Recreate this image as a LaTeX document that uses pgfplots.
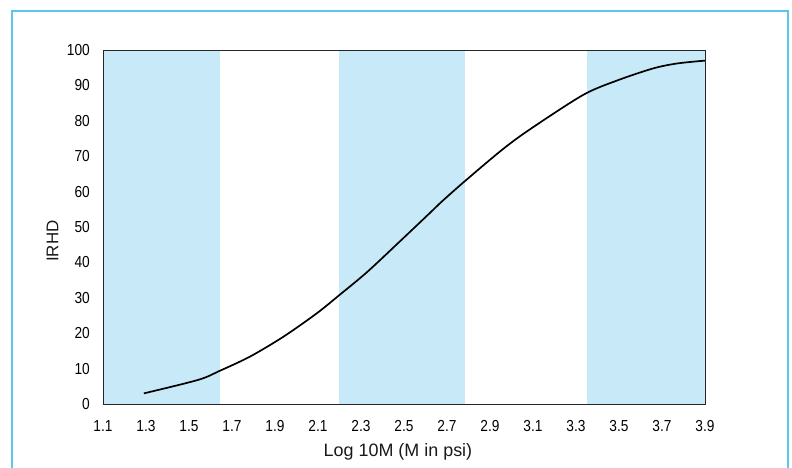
\documentclass[border=0pt]{standalone}
\usepackage{fontspec}
\setmainfont{Liberation Sans}
\newfontfamily\tickfont[FakeStretch=0.86]{Liberation Sans}
\usepackage{pgfplots}
\pgfplotsset{compat=1.18}
\definecolor{band}{RGB}{200,234,248}
\definecolor{frame}{RGB}{90,198,236}

\begin{document}
\begin{tikzpicture}
\useasboundingbox (0,0) rectangle (792bp,468bp);
\draw[frame, line width=2bp] (12bp,-20bp) rectangle (788bp,457bp);
\begin{axis}[
at={(103bp,64bp)}, anchor=south west,
scale only axis, width=602bp, height=354bp,
xmin=1.1, xmax=3.9, ymin=0, ymax=100,
xtick={1.1,1.3,...,3.9}, ytick={0,10,...,100},
major tick length=0pt,
/pgf/number format/assume math mode=true,
xticklabel style={/pgf/number format/fixed, /pgf/number format/precision=1,
  /pgf/number format/fixed zerofill, anchor=north, inner sep=0pt, yshift=-16bp},
yticklabel style={anchor=east, inner sep=0pt, xshift=-13bp},
tick label style={font=\tickfont\fontsize{16}{18}\selectfont, text=black},
xlabel={Log 10M (M in psi)},
ylabel={IRHD},
xlabel style={at={(axis description cs:0.49,0)}, anchor=north, inner sep=0pt,
  yshift=-39bp, font=\fontsize{18}{20}\selectfont, text=black!90},
ylabel style={at={(axis description cs:-0.0839,0.46)}, anchor=center, inner sep=0pt,
  font=\fontsize{17}{20}\selectfont, text=black!90},
axis line style={black!85, line width=0.8bp},
axis on top,
clip=false,
]
\addplot[fill=band, draw=none] coordinates {(1.1,0) (1.644,0) (1.644,100) (1.1,100)} -- cycle;
\addplot[fill=band, draw=none] coordinates {(2.198,0) (2.784,0) (2.784,100) (2.198,100)} -- cycle;
\addplot[fill=band, draw=none] coordinates {(3.351,0) (3.9,0) (3.9,100) (3.351,100)} -- cycle;
\addplot[black, line width=1.7bp, smooth, tension=0.5] coordinates {
(1.29,3.0) (1.542,6.8) (1.644,9.4) (1.784,13.4) (1.939,19.0) (2.094,25.6)
(2.198,30.7) (2.327,37.2) (2.482,46.0) (2.621,54.0) (2.676,57.2) (2.784,63.0)
(2.956,71.8) (3.086,77.6) (3.333,87.3) (3.492,91.4) (3.659,94.8) (3.771,96.2) (3.9,97.0)
};
\end{axis}
\end{tikzpicture}
\end{document}
